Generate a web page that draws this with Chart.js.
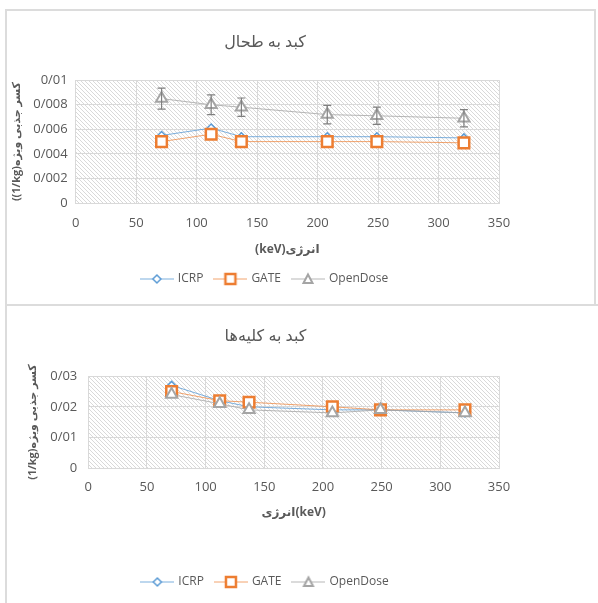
<!DOCTYPE html>
<html>
<head>
<meta charset="utf-8">
<script src="https://cdn.jsdelivr.net/npm/chart.js@4/dist/chart.umd.min.js"></script>
<style>
  html, body { margin: 0; padding: 0; background: #fff; width: 598px; height: 603px; overflow: hidden; }
  .panel { position: absolute; box-sizing: border-box; border: 2px solid #dcdcdc; }
  #panel1 { left: 5px; top: 9px; width: 591px; height: 297px; }
  #panel2 { left: 5px; top: 304px; width: 600px; height: 310px; border-right: none; border-bottom: none; }
  canvas { position: absolute; }
  #spleen { left: 6px; top: 10px; }
  #kidney { left: 6px; top: 306px; }
</style>
</head>
<body>
<div class="panel" id="panel1"></div>
<div class="panel" id="panel2"></div>
<canvas id="spleen" width="520" height="295"></canvas>
<canvas id="kidney" width="520" height="297"></canvas>
<script>
// Photon energies (keV) shared by both panels
const energies = [71, 112, 137, 208, 249, 321];
const seriesNames = ['ICRP', 'GATE', 'OpenDose'];

// Liver -> spleen specific absorbed fractions (1/kg)
const spleenICRP = [0.0055, 0.0061, 0.0054, 0.0054, 0.0054, 0.0053];
const spleenGATE = [0.0050, 0.0056, 0.0050, 0.0050, 0.0050, 0.0049];
const spleenOpenDose = [0.0085, 0.0080, 0.0078, 0.0072, 0.0071, 0.0069];
const spleenOpenDoseErr = [0.00085, 0.0008, 0.00075, 0.00075, 0.0007, 0.0007];

// Liver -> kidneys specific absorbed fractions (1/kg)
const kidneyICRP = [0.027, 0.022, 0.020, 0.019, 0.019, 0.018];
const kidneyGATE = [0.025, 0.022, 0.0215, 0.020, 0.019, 0.019];
const kidneyOpenDose = [0.024, 0.021, 0.019, 0.018, 0.019, 0.018];

const FONT = '"Open Sans", "DejaVu Sans", sans-serif';
const TEXT = '#595959';
const GRID = '#d9d9d9';
const COLORS = { ICRP: '#5b9bd5', GATE: '#ed7d31', OpenDose: '#a5a5a5' };
const LINE_COLORS = { ICRP: 'rgba(91,155,213,0.8)', GATE: 'rgba(237,125,49,0.7)', OpenDose: 'rgba(165,165,165,0.8)' };
const MARKERS = {
  ICRP: { style: 'rectRot', radius: 4, width: 1.5 },
  GATE: { style: 'rect', radius: 7.5, width: 2.5 },
  OpenDose: { style: 'triangle', radius: 6.5, width: 2 }
};

// Hatched fill used behind the plot area
function hatchPattern() {
  const c = document.createElement('canvas');
  c.width = 4; c.height = 4;
  const g = c.getContext('2d');
  g.strokeStyle = '#cfcfcf';
  g.lineWidth = 0.8;
  g.beginPath();
  g.moveTo(-1, -1); g.lineTo(5, 5);
  g.moveTo(3, -1); g.lineTo(5, 1);
  g.moveTo(-1, 3); g.lineTo(1, 5);
  g.stroke();
  return g.createPattern(c, 'repeat');
}

const hatchPlugin = {
  id: 'hatch',
  beforeDraw(chart) {
    const { ctx, chartArea: a } = chart;
    ctx.save();
    ctx.fillStyle = hatchPattern();
    ctx.fillRect(a.left, a.top, a.right - a.left, a.bottom - a.top);
    ctx.restore();
  }
};

// Vertical error bars with caps, drawn from per-dataset "errors" arrays
const errorBarPlugin = {
  id: 'errorBars',
  afterDatasetsDraw(chart) {
    const { ctx, scales: { x, y } } = chart;
    chart.data.datasets.forEach(ds => {
      if (!ds.errors) return;
      ctx.save();
      ctx.strokeStyle = '#7f7f7f';
      ctx.lineWidth = 1.2;
      ds.data.forEach((p, i) => {
        const e = ds.errors[i];
        const px = x.getPixelForValue(p.x);
        const top = y.getPixelForValue(p.y + e);
        const bot = y.getPixelForValue(p.y - e);
        ctx.beginPath();
        ctx.moveTo(px, top); ctx.lineTo(px, bot);
        ctx.moveTo(px - 4, top); ctx.lineTo(px + 4, top);
        ctx.moveTo(px - 4, bot); ctx.lineTo(px + 4, bot);
        ctx.stroke();
      });
      ctx.restore();
    });
  }
};

// Legend swatch: short line with the series marker in the middle
function legendIcon(name) {
  const c = document.createElement('canvas');
  c.width = 34; c.height = 14;
  const g = c.getContext('2d');
  g.strokeStyle = LINE_COLORS[name];
  g.lineWidth = 1;
  g.beginPath(); g.moveTo(0, 7); g.lineTo(34, 7); g.stroke();
  const m = MARKERS[name];
  g.strokeStyle = COLORS[name];
  g.fillStyle = '#fff';
  g.lineWidth = m.width;
  g.beginPath();
  if (name === 'ICRP') {
    g.moveTo(17, 3); g.lineTo(21, 7); g.lineTo(17, 11); g.lineTo(13, 7); g.closePath();
  } else if (name === 'GATE') {
    g.rect(12, 2, 10, 10);
  } else {
    g.moveTo(17, 2.5); g.lineTo(21.5, 11); g.lineTo(12.5, 11); g.closePath();
  }
  g.fill(); g.stroke();
  return c;
}
const legendIcons = seriesNames.map(legendIcon);

function persianDecimal(digits) {
  return v => v === 0 ? '0' : v.toFixed(digits).replace(/0+$/, '').replace('.', '/');
}

function dataset(name, values, order, extra) {
  const m = MARKERS[name];
  return Object.assign({
    label: name,
    data: energies.map((e, i) => ({ x: e, y: values[i] })),
    borderColor: LINE_COLORS[name],
    borderWidth: 1,
    backgroundColor: '#fff',
    pointStyle: m.style,
    pointRadius: m.radius,
    pointBorderWidth: m.width,
    pointBackgroundColor: '#fff',
    pointBorderColor: COLORS[name],
    showLine: true,
    tension: 0,
    order: order
  }, extra || {});
}

function makeChart(id, cfg) {
  return new Chart(document.getElementById(id), {
    type: 'scatter',
    data: { datasets: cfg.datasets },
    plugins: [hatchPlugin, errorBarPlugin],
    options: {
      responsive: false,
      animation: false,
      layout: { padding: cfg.padding },
      plugins: {
        tooltip: { enabled: false },
        title: {
          display: true,
          text: cfg.title,
          color: TEXT,
          font: { family: FONT, size: 16, weight: 'normal' },
          padding: cfg.titlePadding
        },
        legend: {
          position: 'bottom',
          labels: {
            usePointStyle: true,
            pointStyleWidth: 30,
            color: TEXT,
            font: { family: FONT, size: 12 },
            padding: cfg.legendPadding,
            generateLabels(chart) {
              return Chart.defaults.plugins.legend.labels.generateLabels(chart)
                .sort((a, b) => a.datasetIndex - b.datasetIndex)
                .map(l => Object.assign(l, { pointStyle: legendIcons[l.datasetIndex] }));
            }
          }
        }
      },
      scales: {
        x: {
          type: 'linear', min: 0, max: 350,
          ticks: { stepSize: 50, color: TEXT, font: { family: FONT, size: 13 }, padding: cfg.xTickPadding, maxRotation: 0 },
          grid: { color: GRID, drawTicks: false },
          border: { color: GRID },
          title: {
            display: true, text: cfg.xTitle, color: TEXT,
            font: { family: FONT, size: 12, weight: 'bold' },
            padding: cfg.xTitlePadding
          }
        },
        y: {
          min: 0, max: cfg.yMax,
          ticks: { stepSize: cfg.yStep, color: TEXT, font: { family: FONT, size: 13 }, padding: cfg.yTickPadding, callback: persianDecimal(cfg.digits) },
          grid: { color: GRID, drawTicks: false },
          border: { color: GRID },
          title: {
            display: true, text: cfg.yTitle, color: TEXT,
            font: { family: FONT, size: 11, weight: 'bold' },
            padding: cfg.yTitlePadding
          }
        }
      }
    }
  });
}

makeChart('spleen', {
  title: 'کبد به طحال',
  xTitle: '(keV)انرژی',
  yTitle: '((1/kg)کسر جذبی ویژه',
  yMax: 0.01, yStep: 0.002, digits: 3,
  padding: { left: 25, right: 27, top: 13, bottom: 10 },
  titlePadding: { top: 10, bottom: 28 },
  xTitlePadding: { top: 0, bottom: 4 },
  xTickPadding: 12,
  yTitlePadding: { top: -21, bottom: 2 },
  yTickPadding: 8,
  legendPadding: 12,
  datasets: [
    dataset('ICRP', spleenICRP, 3),
    dataset('GATE', spleenGATE, 2),
    dataset('OpenDose', spleenOpenDose, 1, { errors: spleenOpenDoseErr })
  ]
});

makeChart('kidney', {
  title: 'کبد به کلیه‌ها',
  xTitle: 'انرژی(keV)',
  yTitle: '(1/kg)کسر جذبی ویژه',
  yMax: 0.03, yStep: 0.01, digits: 2,
  padding: { left: 26, right: 27, top: 11, bottom: 5 },
  titlePadding: { top: 10, bottom: 30 },
  xTitlePadding: { top: 0, bottom: 44 },
  xTickPadding: 11,
  yTitlePadding: { top: -6, bottom: 0 },
  yTickPadding: 11,
  legendPadding: 12,
  datasets: [
    dataset('ICRP', kidneyICRP, 3),
    dataset('GATE', kidneyGATE, 2),
    dataset('OpenDose', kidneyOpenDose, 1)
  ]
});
</script>
</body>
</html>
